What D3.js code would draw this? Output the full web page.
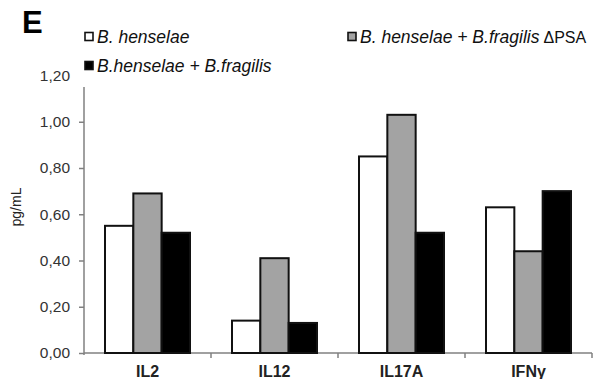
<!DOCTYPE html>
<html>
<head>
<meta charset="utf-8">
<script src="https://cdn.jsdelivr.net/npm/d3@7"></script>
<style>
  body { margin: 0; background: #fff; }
  svg { font-family: Arial, "Liberation Sans", sans-serif; }
  .axis path, .axis line { stroke: #808080; stroke-width: 1.5px; }
  .ytick text { fill: #333; font-size: 15.5px; }
</style>
</head>
<body>
<script>
// Data
var categories = ["IL2", "IL12", "IL17A", "IFNγ"];
var seriesNames = ["B. henselae", "B.henselae + B.fragilis", "B. henselae + B.fragilis ΔPSA"];
var henselae = [0.55, 0.14, 0.85, 0.63];
var fragilisPSA = [0.69, 0.41, 1.03, 0.44];
var fragilis = [0.52, 0.13, 0.52, 0.70];
var yTicks = [0, 0.2, 0.4, 0.6, 0.8, 1.0, 1.2];

// bar order inside a group: white, gray, black
var series = [
  {key: "h", values: henselae, fill: "#ffffff"},
  {key: "p", values: fragilisPSA, fill: "#a3a3a3"},
  {key: "f", values: fragilis, fill: "#000000"}
];

var w = 596, h = 379;
var left = 84, right = 592, bottom = 353;

var svg = d3.select("body").append("svg")
    .attr("width", w)
    .attr("height", h);

// Scales
var x0 = d3.scaleBand()
    .domain(categories)
    .range([left, right]);

var gap = 21;
var x1 = d3.scaleBand()
    .domain(series.map(function(d) { return d.key; }))
    .range([gap, x0.bandwidth() - gap]);

var yScale = d3.scaleLinear()
    .domain([0, 1.2])
    .range([bottom, 75.5]);

// Y axis
var yAxis = d3.axisLeft(yScale)
    .tickValues(yTicks)
    .tickSize(5)
    .tickSizeOuter(0)
    .tickPadding(9)
    .tickFormat(function(d) { return d3.format(".2f")(d).replace(".", ","); });

var gy = svg.append("g")
    .attr("class", "axis ytick")
    .attr("transform", "translate(" + left + ",0)")
    .call(yAxis);
gy.select(".domain").attr("d", "M0," + (bottom + 2) + "V" + yScale(1.2));

// axis title
svg.append("text")
    .attr("transform", "translate(21,207) rotate(-90)")
    .attr("text-anchor", "middle")
    .style("font-size", "14px")
    .style("fill", "#222")
    .text("pg/mL");

// X axis line with ticks at category boundaries
svg.append("line")
    .attr("x1", left).attr("x2", right)
    .attr("y1", bottom).attr("y2", bottom)
    .style("stroke", "#808080").style("stroke-width", 1.5);

var bounds = categories.map(function(c) { return x0(c); }).concat([right]);
svg.selectAll(".xtick")
    .data(bounds.slice(1))
    .enter().append("line")
    .attr("class", "xtick")
    .attr("x1", function(d) { return d; })
    .attr("x2", function(d) { return d; })
    .attr("y1", bottom)
    .attr("y2", bottom + 5)
    .style("stroke", "#808080").style("stroke-width", 1.5);

svg.selectAll(".xlabel")
    .data(categories)
    .enter().append("text")
    .attr("class", "xlabel")
    .attr("x", function(d) { return x0(d) + x0.bandwidth() / 2; })
    .attr("y", 377)
    .attr("text-anchor", "middle")
    .style("font-size", "16px")
    .style("font-weight", "bold")
    .style("fill", "#222")
    .text(function(d) { return d; });

// Bars
var groups = svg.selectAll(".group")
    .data(categories)
    .enter().append("g")
    .attr("class", "group")
    .attr("transform", function(d) { return "translate(" + x0(d) + ",0)"; });

groups.selectAll("rect")
    .data(function(c, i) {
      return series.map(function(s) { return {key: s.key, value: s.values[i], fill: s.fill}; });
    })
    .enter().append("rect")
    .attr("x", function(d) { return x1(d.key); })
    .attr("y", function(d) { return yScale(d.value); })
    .attr("width", x1.bandwidth())
    .attr("height", function(d) { return bottom - yScale(d.value); })
    .style("fill", function(d) { return d.fill; })
    .style("stroke", "#111")
    .style("stroke-width", 2);

// Legend (white box hides top of axis, like the original)
svg.append("rect")
    .attr("x", 78).attr("y", 56)
    .attr("width", 220).attr("height", 31)
    .style("fill", "#fff");

var legendItems = [
  {label: seriesNames[0], fill: "#ffffff", x: 84, y: 37},
  {label: seriesNames[2], fill: "#a3a3a3", x: 347, y: 37},
  {label: seriesNames[1], fill: "#000000", x: 84, y: 66}
];

var leg = svg.selectAll(".legend")
    .data(legendItems)
    .enter().append("g")
    .attr("class", "legend")
    .attr("transform", function(d) { return "translate(" + d.x + "," + d.y + ")"; });

leg.append("rect")
    .attr("x", 1).attr("y", -4.5)
    .attr("width", 8).attr("height", 8)
    .style("fill", function(d) { return d.fill; })
    .style("stroke", "#111")
    .style("stroke-width", 1.6);

leg.append("text")
    .attr("x", 13)
    .attr("y", 6)
    .style("font-size", "17.5px")
    .style("font-style", "italic")
    .style("fill", "#111")
    .text(function(d) { return d.label.replace(" ΔPSA", ""); })
  .filter(function(d) { return d.label.indexOf("ΔPSA") >= 0; })
    .append("tspan")
    .attr("dx", 4)
    .style("font-style", "normal")
    .style("font-size", "16px")
    .text("ΔPSA");

// Panel letter
svg.append("text")
    .attr("x", 22)
    .attr("y", 33)
    .style("font-size", "31px")
    .style("font-weight", "bold")
    .style("fill", "#000")
    .text("E");
</script>
</body>
</html>
